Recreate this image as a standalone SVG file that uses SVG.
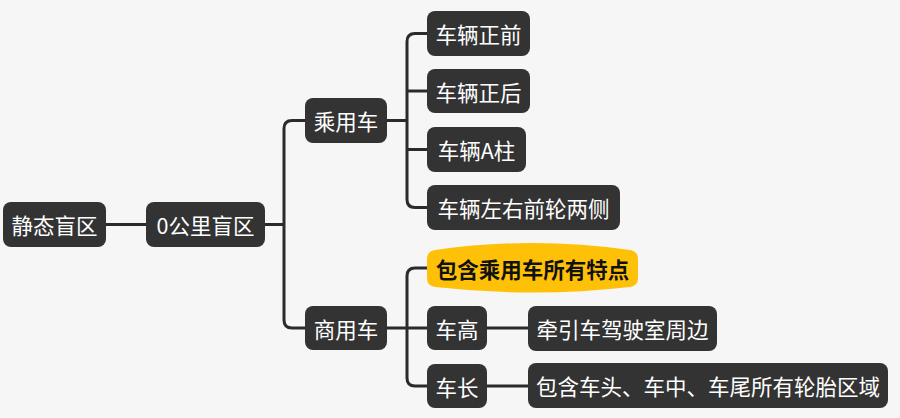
<svg xmlns="http://www.w3.org/2000/svg" width="900" height="418" viewBox="0 0 900 418">
<style>
.bg{fill:#f6f6f6}
.n rect{fill:#333333}
.n text{fill:#ffffff;font-family:"Noto Sans CJK SC","Noto Sans",sans-serif;font-size:21.5px;text-anchor:middle;dominant-baseline:central}
.hl path{fill:#ffc107}
.hl text{fill:#111111;font-family:"Noto Sans CJK SC","Noto Sans",sans-serif;font-size:21.5px;font-weight:bold;text-anchor:middle;dominant-baseline:central}
.c path{fill:none;stroke:#2b2b2b;stroke-width:3}
</style>
<rect class="bg" x="0" y="0" width="900" height="418"/>
<g class="c" id="connectors">
<path d="M106,224.5 H146"/>
<path d="M265,224.5 H284"/>
<path d="M305,120.5 H292 Q284,120.5 284,128.5 V320 Q284,328 292,328 H305"/>
<path d="M387,120.5 H407"/>
<path d="M427,33.5 H415 Q407,33.5 407,41.5 V199.5 Q407,207.5 415,207.5 H427"/>
<path d="M407,91 H427"/>
<path d="M407,149.5 H427"/>
<path d="M387,328 H427"/>
<path d="M427,268 H415 Q407,268 407,276 V378 Q407,386 415,386 H427"/>
<path d="M487,328 H528"/>
<path d="M487,386 H528"/>
</g>
<g class="n" id="n1"><rect x="3" y="202" width="103" height="45" rx="8"/><text x="54.5" y="224.5">静态盲区</text></g>
<g class="n" id="n2"><rect x="146" y="202" width="119" height="45" rx="8"/><text x="205.5" y="224.5">0公里盲区</text></g>
<g class="n" id="n3"><rect x="305" y="98" width="82" height="45" rx="8"/><text x="346" y="120.5">乘用车</text></g>
<g class="n" id="n4"><rect x="427" y="11" width="103" height="45" rx="8"/><text x="478.5" y="33.5">车辆正前</text></g>
<g class="n" id="n5"><rect x="427" y="69" width="103" height="44" rx="8"/><text x="478.5" y="91">车辆正后</text></g>
<g class="n" id="n6"><rect x="427" y="127" width="99" height="45" rx="8"/><text x="476.5" y="149.5">车辆A柱</text></g>
<g class="n" id="n7"><rect x="427" y="185" width="193" height="45" rx="8"/><text x="523.5" y="207.5">车辆左右前轮两侧</text></g>
<g class="hl" id="n8"><path d="M435,250 Q532.5,236 630,250 Q638,251 638,259 V278 Q638,286 630,287 Q532.5,298 435,287 Q427,286 427,278 V259 Q427,251 435,250 Z"/><text x="532.5" y="268">包含乘用车所有特点</text></g>
<g class="n" id="n9"><rect x="305" y="306" width="82" height="44" rx="8"/><text x="346" y="328">商用车</text></g>
<g class="n" id="n10"><rect x="427" y="306" width="60" height="44" rx="8"/><text x="457" y="328">车高</text></g>
<g class="n" id="n11"><rect x="427" y="364" width="60" height="44" rx="8"/><text x="457" y="386">车长</text></g>
<g class="n" id="n12"><rect x="528" y="306" width="189" height="45" rx="8"/><text x="622.5" y="328.5">牵引车驾驶室周边</text></g>
<g class="n" id="n13"><rect x="528" y="363" width="360" height="45" rx="8"/><text x="708" y="385.5">包含车头、车中、车尾所有轮胎区域</text></g>
</svg>
